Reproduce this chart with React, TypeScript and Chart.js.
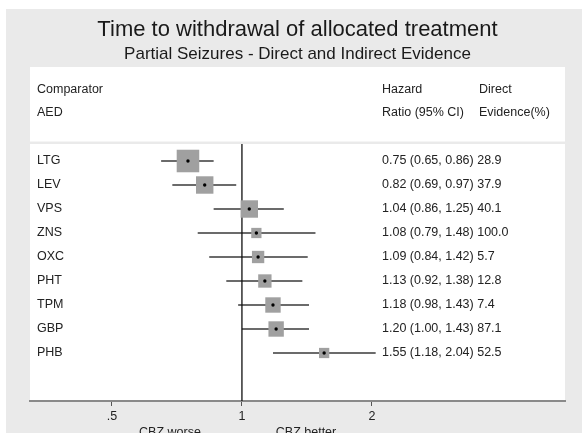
import React, { useEffect, useRef } from "react";
import { Chart, registerables } from "chart.js";

Chart.register(...registerables);

const TITLE = "Time to withdrawal of allocated treatment";
const SUBTITLE = "Partial Seizures - Direct and Indirect Evidence";
const HEAD_LEFT = ["Comparator", "AED"];
const HEAD_HR = ["Hazard", "Ratio (95% CI)"];
const HEAD_DIRECT = ["Direct", "Evidence(%)"];
const AXIS_NOTES = ["CBZ worse", "CBZ better"];

const AEDS = ["LTG", "LEV", "VPS", "ZNS", "OXC", "PHT", "TPM", "GBP", "PHB"];
const HR = [0.75, 0.82, 1.04, 1.08, 1.09, 1.13, 1.18, 1.2, 1.55];
const LOWER = [0.65, 0.69, 0.86, 0.79, 0.84, 0.92, 0.98, 1.0, 1.18];
const UPPER = [0.86, 0.97, 1.25, 1.48, 1.42, 1.38, 1.43, 1.43, 2.04];
const DIRECT = [28.9, 37.9, 40.1, 100.0, 5.7, 12.8, 7.4, 87.1, 52.5];
// relative box weights (%)
const WEIGHTS = [25.1, 15.0, 15.0, 5.2, 7.5, 8.8, 11.7, 11.7, 5.2];

const X_TICKS = [0.5, 1, 2];
const X_TICK_LABELS = [".5", "1", "2"];

const FONT = '"Liberation Sans", Arial, Helvetica, sans-serif';
const TEXT = "#222";

export default function App() {
  const ref = useRef<HTMLCanvasElement>(null);

  useEffect(() => {
    const canvas = ref.current;
    if (!canvas) return;

    const decor = {
      id: "decor",
      beforeDraw(chart: any) {
        const { ctx, width, height } = chart;
        const { left, right, top, bottom } = chart.chartArea;
        ctx.save();
        ctx.fillStyle = "#ffffff";
        ctx.fillRect(0, 0, width, height);
        ctx.fillStyle = "#eaeaea";
        ctx.fillRect(6, 9, width - 6, height - 9);
        ctx.fillStyle = "#ffffff";
        ctx.fillRect(left, 67, right - left, 74.5);
        ctx.fillRect(left, top, right - left, bottom - top);

        const cx = (left + right) / 2;
        ctx.fillStyle = "#1a1a1a";
        ctx.textAlign = "center";
        ctx.textBaseline = "alphabetic";
        ctx.font = `22px ${FONT}`;
        ctx.fillText(TITLE, cx, 36);
        ctx.font = `17px ${FONT}`;
        ctx.fillText(SUBTITLE, cx, 59);

        ctx.fillStyle = TEXT;
        ctx.textAlign = "left";
        ctx.textBaseline = "middle";
        ctx.font = `12.5px ${FONT}`;
        const rowsY = [90, 113];
        rowsY.forEach((y, k) => {
          ctx.fillText(HEAD_LEFT[k], 37, y);
          ctx.fillText(HEAD_HR[k], 382, y);
          ctx.fillText(HEAD_DIRECT[k], 479, y);
        });

        ctx.textAlign = "center";
        ctx.font = `12.5px ${FONT}`;
        ctx.fillText(AXIS_NOTES[0], 170, 433);
        ctx.fillText(AXIS_NOTES[1], 306, 433);
        ctx.restore();
      },
      afterDatasetsDraw(chart: any) {
        const { ctx } = chart;
        const ys = chart.scales.y;
        ctx.save();
        ctx.fillStyle = TEXT;
        ctx.textAlign = "left";
        ctx.textBaseline = "middle";
        ctx.font = `12.5px ${FONT}`;
        AEDS.forEach((_, i) => {
          const txt = `${HR[i].toFixed(2)} (${LOWER[i].toFixed(2)}, ${UPPER[i].toFixed(2)}) ${DIRECT[i].toFixed(1)}`;
          ctx.fillText(txt, 382, ys.getPixelForValue(i));
        });
        ctx.restore();
      },
    };

    const ciSets = AEDS.map((name, i) => ({
      type: "line" as const,
      label: `${name} 95% CI`,
      data: [
        { x: LOWER[i], y: i },
        { x: UPPER[i], y: i },
      ],
      borderColor: "#3a3a3a",
      borderWidth: 1.3,
      pointRadius: 0,
      order: 3,
    }));

    const chart = new Chart(canvas, {
      type: "scatter",
      data: {
        datasets: [
          {
            label: "Hazard ratio",
            data: HR.map((v, i) => ({ x: v, y: i })),
            pointStyle: "circle",
            pointRadius: 1.7,
            backgroundColor: "#000",
            borderWidth: 0,
            order: 0,
          },
          {
            label: "Weight",
            data: HR.map((v, i) => ({ x: v, y: i })),
            pointStyle: "rect",
            pointRadius: (c: any) => (Math.sqrt(WEIGHTS[c.dataIndex] ?? 0) * 4.5) / Math.SQRT2,
            backgroundColor: "#a0a0a0",
            borderWidth: 0,
            order: 1,
          },
          ...ciSets,
          {
            type: "line",
            label: "No effect",
            data: [
              { x: 1, y: -1 },
              { x: 1, y: 11 },
            ],
            borderColor: "#111",
            borderWidth: 1.3,
            pointRadius: 0,
            order: 2,
          },
        ] as any,
      },
      options: {
        animation: false,
        responsive: false,
        events: [],
        layout: { padding: { left: 30, right: 17, top: 144, bottom: 0 } },
        plugins: {
          legend: { display: false },
          tooltip: { enabled: false },
          title: { display: false },
        },
        scales: {
          x: {
            type: "logarithmic",
            position: "bottom",
            bounds: "data",
            min: 0.3231,
            max: 5.597,
            afterBuildTicks: (s: any) => {
              s.ticks = X_TICKS.map((v) => ({ value: v }));
            },
            afterFit: (s: any) => {
              s.height = 32;
            },
            ticks: {
              autoSkip: false,
              maxRotation: 0,
              padding: 3,
              color: TEXT,
              font: { family: FONT, size: 12.5 },
              callback: (v: any) => {
                const k = X_TICKS.indexOf(Number(v));
                return k >= 0 ? X_TICK_LABELS[k] : "";
              },
            },
            grid: {
              drawOnChartArea: false,
              drawTicks: true,
              tickLength: 5,
              color: "#555",
              lineWidth: 1,
            },
            border: { display: true, color: "#8a8a8a", width: 2 },
          },
          y: {
            type: "linear",
            position: "left",
            reverse: true,
            min: -0.7083,
            max: 10.0,
            afterBuildTicks: (s: any) => {
              s.ticks = AEDS.map((_, i) => ({ value: i }));
            },
            afterFit: (s: any) => {
              s.width = 0;
            },
            ticks: {
              mirror: true,
              padding: 7,
              autoSkip: false,
              color: TEXT,
              font: { family: FONT, size: 12.5 },
              callback: (v: any) => AEDS[Number(v)] ?? "",
            },
            grid: { display: false, drawTicks: false },
            border: { display: false },
          },
        },
      } as any,
      plugins: [decor],
    });

    return () => chart.destroy();
  }, []);

  return (
    <div style={{ position: "fixed", left: 0, top: 0, width: 582, height: 433 }}>
      <canvas ref={ref} width={582} height={433} style={{ width: 582, height: 433, display: "block" }} />
    </div>
  );
}
